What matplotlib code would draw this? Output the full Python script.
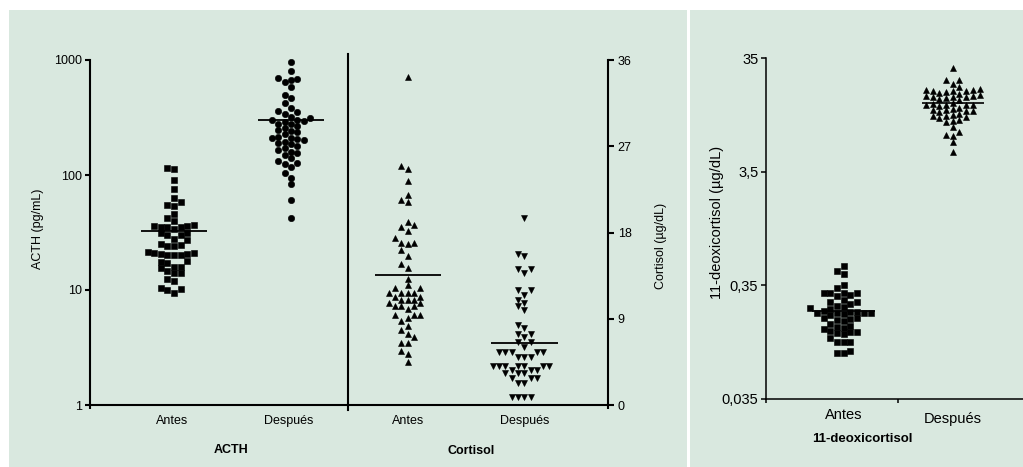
import numpy as np
import matplotlib
matplotlib.use("Agg")
import matplotlib.pyplot as plt
from matplotlib.patches import Rectangle
from matplotlib.ticker import FixedLocator, NullLocator

plt.rcParams['font.family'] = ['Liberation Sans', 'DejaVu Sans']

# ---------------- data ----------------
categories = ["Antes", "Después"]

acth_antes = [115, 113, 90, 75, 63, 58, 55, 54, 46, 42, 40, 37, 36, 36, 35, 35, 35, 34,
              31, 31, 30, 30, 28, 27, 25, 24.5, 24, 24, 21.5, 21, 21, 20.5, 20.5, 20, 20,
              20, 18, 17.5, 17, 16, 16, 15.5, 14.5, 14, 14, 12.5, 12, 10.5, 10.2, 10, 9.5]
acth_despues = [960, 800, 700, 680, 670, 640, 580, 500, 470, 420, 380, 360, 355, 340, 320,
                310, 300, 300, 295, 290, 280, 275, 265, 255, 245, 240, 235, 225, 215, 210,
                210, 205, 200, 195, 190, 185, 180, 170, 165, 160, 155, 150, 140, 132, 128,
                125, 118, 105, 95, 84, 61, 42]
cortisol_antes = [34.2, 24.9, 24.6, 23.4, 21.9, 21.4, 21.2, 19.1, 18.8, 18.6, 18.2, 17.4,
                  16.9, 16.9, 16.8, 16.2, 15.6, 14.7, 14.3, 13.2, 12.5, 12.2, 12.2, 11.7,
                  11.7, 11.7, 11.7, 11.3, 11.3, 11.0, 11.0, 11.0, 10.6, 10.6, 10.3, 10.3,
                  10.3, 10.0, 9.4, 9.4, 9.4, 9.1, 8.8, 8.2, 7.8, 7.4, 7.1, 6.5, 6.5, 5.6,
                  5.3, 4.5]
cortisol_despues = [19.5, 15.8, 15.5, 14.2, 14.2, 13.8, 12.0, 12.0, 11.5, 11.0, 10.6, 10.3,
                    9.9, 8.3, 8.0, 7.4, 7.4, 7.1, 6.6, 6.6, 6.1, 5.5, 5.5, 5.5, 5.5, 5.5,
                    5.0, 5.0, 5.0, 4.1, 4.1, 4.1, 4.1, 4.1, 4.1, 4.1, 3.7, 3.7, 3.7, 3.3,
                    3.3, 3.3, 2.8, 2.8, 2.8, 2.3, 2.3, 0.8, 0.8, 0.8, 0.8]
deoxi_antes = [0.52, 0.47, 0.44, 0.35, 0.33, 0.30, 0.30, 0.30, 0.30, 0.29, 0.28, 0.26, 0.25,
               0.25, 0.24, 0.23, 0.225, 0.22, 0.215, 0.21, 0.205, 0.205, 0.20, 0.20, 0.20,
               0.20, 0.195, 0.19, 0.18, 0.18, 0.178, 0.175, 0.17, 0.16, 0.155, 0.15, 0.148,
               0.145, 0.14, 0.135, 0.135, 0.132, 0.13, 0.12, 0.11, 0.11, 0.11, 0.093,
               0.088, 0.088]
deoxi_despues = [28.4, 22.3, 22.3, 20.5, 19.5, 18.5, 18.3, 18.2, 18.0, 18.0, 17.8, 17.5,
                 17.2, 16.8, 16.5, 16.3, 16.2, 16.0, 16.0, 15.8, 15.5, 15.2, 14.8, 14.2,
                 13.8, 13.6, 13.5, 13.5, 13.4, 13.3, 12.8, 12.4, 12.2, 12.1, 12.0, 12.0,
                 11.8, 11.2, 11.0, 10.8, 10.8, 10.6, 10.4, 9.9, 9.8, 9.6, 8.7, 7.8, 7.4,
                 7.2, 6.4, 5.2]

# central lines
acth_center = [32.6, 299]
cortisol_center = [13.6, 6.5]
deoxi_center = [0.208, 14.0]

acth_ticks = [1, 10, 100, 1000]
acth_ticklabels = ["1", "10", "100", "1000"]
cortisol_ticks = [0, 9, 18, 27, 36]
deoxi_ticks = [0.035, 0.35, 3.5, 35]
deoxi_ticklabels = ["0,035", "0,35", "3,5", "35"]

# ---------------- figure ----------------
W, H = 1023, 467
fig = plt.figure(figsize=(W / 100, H / 100), dpi=100)
fig.patch.set_facecolor("white")
GREEN = "#d9e8df"


def fr(x, y):
    return x / W, 1 - y / H


def rect(x0, y0, x1, y1):
    return [x0 / W, 1 - y1 / H, (x1 - x0) / W, (y1 - y0) / H]


fig.patches.append(Rectangle((9 / W, 0), 678 / W, (H - 10) / H, transform=fig.transFigure,
                             facecolor=GREEN, edgecolor="none", zorder=-5))
fig.patches.append(Rectangle((690 / W, 0), (W - 690) / W, (H - 10) / H, transform=fig.transFigure,
                             facecolor=GREEN, edgecolor="none", zorder=-5))

ax1 = fig.add_axes(rect(90, 60, 348, 405))
ax2 = fig.add_axes(rect(348, 60, 608, 405))
ax3 = fig.add_axes(rect(766, 58, 1023, 399))
for a in (ax1, ax2, ax3):
    a.set_facecolor("none")

ax1.set_yscale("log")
ax1.set_ylim(1, 1000)
ax1.set_xlim(-0.718, 1.487)
ax2.set_ylim(0, 36)
ax2.set_xlim(-0.512, 1.718)
ax3.set_yscale("log")
ax3.set_ylim(0.035, 35)
ax3.set_xlim(-0.713, 1.645)


def swarm(ax, xpos, values, step_px, thr_px):
    vals = np.asarray(values, float)
    pts = np.column_stack([np.full(len(vals), xpos, float), vals])
    disp = ax.transData.transform(pts)
    ypx = disp[:, 1]
    order = np.argsort(ypx, kind="stable")
    placed = {}
    cols = np.zeros(len(vals))
    cand = [0]
    for k in range(1, 20):
        cand += [-k, k]
    for i in order:
        for c in cand:
            if all(abs(ypx[i] - yy) >= thr_px for yy in placed.get(c, [])):
                placed.setdefault(c, []).append(ypx[i])
                cols[i] = c
                break
    disp[:, 0] = disp[:, 0] + cols * step_px
    back = ax.transData.inverted().transform(disp)
    return back[:, 0], vals


def draw_group(ax, xpos, values, marker, ms, step, thr, center, hw, lw):
    xs, ys = swarm(ax, xpos, values, step, thr)
    ax.plot(xs, ys, linestyle="none", marker=marker, markersize=ms, color="black",
            markeredgecolor="black", markeredgewidth=0.4, clip_on=False, zorder=3)
    ax.plot([xpos - hw, xpos + hw], [center, center], color="black", lw=lw, zorder=4,
            solid_capstyle="butt")


draw_group(ax1, 0, acth_antes, "s", 4.4, 6.6, 6.0, acth_center[0], 0.28, 1.3)
draw_group(ax1, 1, acth_despues, "o", 4.6, 6.3, 6.0, acth_center[1], 0.28, 1.3)
draw_group(ax2, 0, cortisol_antes, "^", 4.8, 6.3, 6.0, cortisol_center[0], 0.283, 1.3)
draw_group(ax2, 1, cortisol_despues, "v", 4.8, 6.3, 5.5, cortisol_center[1], 0.286, 1.3)
draw_group(ax3, 0, deoxi_antes, "s", 4.6, 6.7, 6.0, deoxi_center[0], 0.29, 1.2)
draw_group(ax3, 1, deoxi_despues, "^", 5.0, 6.7, 5.5, deoxi_center[1], 0.285, 1.2)

FS = 9
# ---- ACTH axes ----
ax1.spines["top"].set_visible(False)
ax1.spines["right"].set_visible(False)
for s in ("left", "bottom"):
    ax1.spines[s].set_linewidth(1.5)
ax1.yaxis.set_major_locator(FixedLocator(acth_ticks))
ax1.yaxis.set_minor_locator(NullLocator())
ax1.set_yticklabels(acth_ticklabels)
ax1.tick_params(axis="y", length=3.5, width=1.5, labelsize=FS, pad=2)
ax1.set_xticks([-0.718])
ax1.set_xticklabels([""])
ax1.tick_params(axis="x", length=3, width=1.5, direction="out")
for i, lab in enumerate(categories):
    ax1.text(i - 0.02, -0.046, lab, transform=ax1.get_xaxis_transform(), ha="center",
             va="center", fontsize=FS)
# divider
ax1.plot([1, 1], [-0.015, 1.017], transform=ax1.transAxes, color="black", lw=1.5,
         clip_on=False, zorder=5)

# ---- Cortisol axes ----
ax2.spines["top"].set_visible(False)
ax2.spines["left"].set_visible(False)
for s in ("right", "bottom"):
    ax2.spines[s].set_linewidth(1.5)
ax2.yaxis.tick_right()
ax2.yaxis.set_major_locator(FixedLocator(cortisol_ticks))
ax2.tick_params(axis="y", length=4, width=1.5, labelsize=FS, pad=3)
ax2.set_xticks([1.718])
ax2.set_xticklabels([""])
ax2.tick_params(axis="x", length=3, width=1.5, direction="out")
for i, lab in enumerate(categories):
    ax2.text(i, -0.046, lab, transform=ax2.get_xaxis_transform(), ha="center",
             va="center", fontsize=FS)

# ---- 11-deoxicortisol axes ----
FS3 = 10.5
ax3.spines["top"].set_visible(False)
ax3.spines["right"].set_visible(False)
for s in ("left", "bottom"):
    ax3.spines[s].set_linewidth(1.1)
ax3.yaxis.set_major_locator(FixedLocator(deoxi_ticks))
ax3.yaxis.set_minor_locator(NullLocator())
ax3.set_yticklabels(deoxi_ticklabels)
ax3.tick_params(axis="y", length=3.5, width=1.1, labelsize=FS3, pad=2)
ax3.set_xticks([-0.713, 0.5])
ax3.set_xticklabels(["", ""])
ax3.tick_params(axis="x", length=3, width=1.1, direction="out")
deoxi_label_y = [-0.047, -0.059]
for i, lab in enumerate(categories):
    ax3.text(i, deoxi_label_y[i], lab, transform=ax3.get_xaxis_transform(), ha="center",
             va="center", fontsize=FS3)

# ---- labels ----
fig.text(*fr(37.5, 228.5), "ACTH (pg/mL)", rotation=90, ha="center", va="center", fontsize=FS)
fig.text(*fr(661, 246), "Cortisol (µg/dL)", rotation=90, ha="center", va="center", fontsize=FS)
fig.text(*fr(717.5, 222.5), "11-deoxicortisol (µg/dL)", rotation=90, ha="center", va="center",
         fontsize=FS3)
fig.text(*fr(231, 450), "ACTH", ha="center", va="center", fontsize=FS, fontweight="bold")
fig.text(*fr(471.5, 451), "Cortisol", ha="center", va="center", fontsize=FS, fontweight="bold")
fig.text(*fr(862.5, 439), "11-deoxicortisol", ha="center", va="center", fontsize=9.5,
         fontweight="bold")

fig.savefig("out.png", dpi=100, facecolor="white")
